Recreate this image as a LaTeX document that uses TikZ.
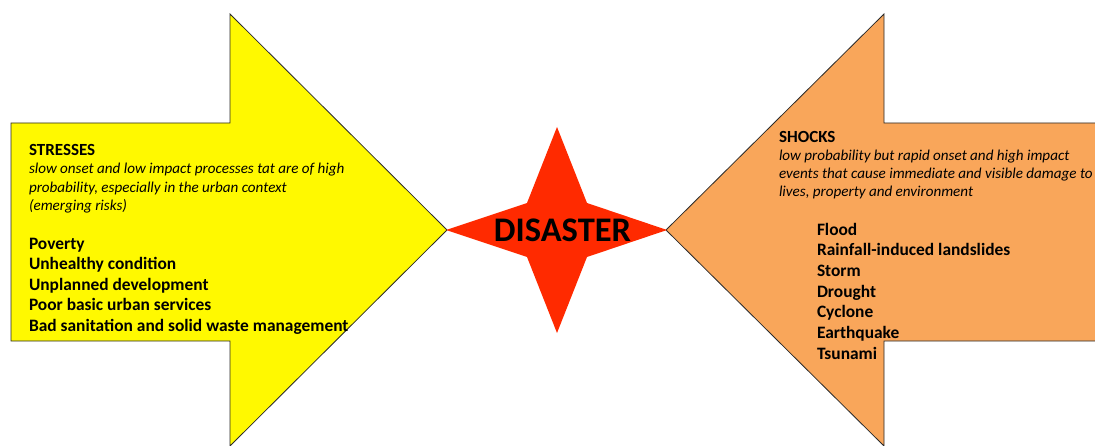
\documentclass[tikz,border=0pt]{standalone}
\usepackage{fontspec}
\setmainfont{Carlito}
\definecolor{stressfill}{HTML}{FFF900}
\definecolor{shockfill}{HTML}{F9A65A}
\definecolor{starfill}{HTML}{FF2A00}
\definecolor{edge}{HTML}{2A2A2A}
\begin{document}
\begin{tikzpicture}[x=1pt,y=-1pt,
  arrowshape/.style={draw=edge, line width=0.8pt, line join=miter},
  txt/.style={anchor=base west, inner sep=0pt, outer sep=0pt},
  heading/.style={txt, font=\fontsize{17}{20}\selectfont\bfseries},
  note/.style={txt, font=\fontsize{15.1}{18}\selectfont\itshape},
  item/.style={txt, font=\fontsize{17.4}{21}\selectfont\bfseries}]
\useasboundingbox (0,0) rectangle (1095,446);
\fill[white] (0,0) rectangle (1095,446);

\begin{scope}
  \clip (0,0) rectangle (1095,446);
  % right-pointing block arrow: stresses
  \draw[arrowshape, fill=stressfill]
    (11,123) -- (230,123) -- (230,14) -- (447,230) -- (230,446)
    -- (230,341) -- (11,341) -- cycle;
  % left-pointing block arrow: shocks
  \draw[arrowshape, fill=shockfill]
    (666,230) -- (884,14) -- (884,123) -- (1110,123) -- (1110,341)
    -- (884,341) -- (884,446) -- cycle;
\end{scope}

% four-pointed star in the middle
\fill[starfill] (557,127) -- (587,203) -- (667,230) -- (587,257)
  -- (557,333) -- (527,257) -- (446,230) -- (527,203) -- cycle;
\node[anchor=base, inner sep=0pt, font=\fontsize{34.5}{38}\selectfont\bfseries]
  (disaster) at (562.5,241.5) {DISASTER};

% stresses text
\node[heading] (sT) at (29,156) {STRESSES};
\node[note] (s1) at (29,174) {slow onset and low impact processes tat are of high};
\node[note] (s2) at (29,192.5) {probability, especially in the urban context};
\node[note] (s3) at (29,211) {(emerging risks)};
\node[item] (s4) at (29,249.5) {Poverty};
\node[item] (s5) at (29,270) {Unhealthy condition};
\node[item] (s6) at (29,290.5) {Unplanned development};
\node[item] (s7) at (29,311) {Poor basic urban services};
\node[item] (s8) at (29,331.5) {Bad sanitation and solid waste management};

% shocks text
\node[heading] (kT) at (779,142.5) {SHOCKS};
\node[note] (k1) at (779,160.7) {low probability but rapid onset and high impact};
\node[note] (k2) at (779,178.7) {events that cause immediate and visible damage to};
\node[note] (k3) at (779,196.7) {lives, property and environment};
\node[item] (k4) at (817,235.3) {Flood};
\node[item] (k5) at (817,256) {Rainfall-induced landslides};
\node[item] (k6) at (817,276.7) {Storm};
\node[item] (k7) at (817,297.3) {Drought};
\node[item] (k8) at (817,318) {Cyclone};
\node[item] (k9) at (817,338.7) {Earthquake};
\node[item] (k10) at (817,359.3) {Tsunami};
\end{tikzpicture}
\end{document}
